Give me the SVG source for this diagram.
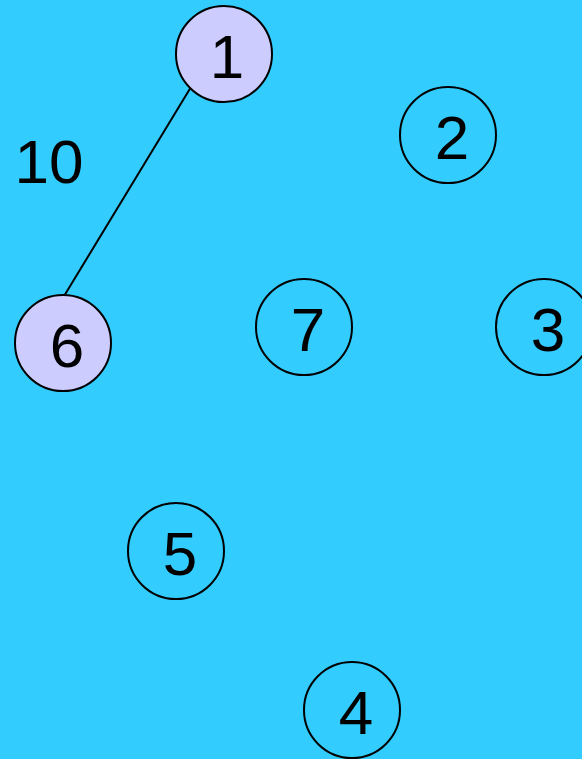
<svg xmlns="http://www.w3.org/2000/svg" width="582" height="759" viewBox="0 0 582 759">
<style>
.n{fill:none;stroke:#000;stroke-width:2}
.v{fill:#CCCCFF}
.t{font-family:"Liberation Sans",Arial,sans-serif;font-size:62px;fill:#000;text-anchor:middle}
.e{stroke:#000;stroke-width:2;fill:none}
</style>
<rect width="582" height="759" fill="#33CCFF"/>
<g id="edges">
<line class="e" x1="190.7" y1="87.5" x2="65" y2="294.5"/>
<text class="t" x="49" y="183">10</text>
</g>
<g id="node1"><circle class="n v" cx="224" cy="54" r="48"/><text class="t" x="227" y="78">1</text></g>
<g id="node2"><circle class="n" cx="448" cy="135" r="48"/><text class="t" x="452" y="159">2</text></g>
<g id="node3"><circle class="n" cx="544" cy="327" r="48"/><text class="t" x="548" y="351">3</text></g>
<g id="node4"><circle class="n" cx="352" cy="710" r="48"/><text class="t" x="356" y="734">4</text></g>
<g id="node5"><circle class="n" cx="176" cy="551" r="48"/><text class="t" x="180" y="575">5</text></g>
<g id="node6"><circle class="n v" cx="63" cy="343" r="48"/><text class="t" x="67" y="367">6</text></g>
<g id="node7"><circle class="n" cx="304" cy="327" r="48"/><text class="t" x="308" y="351">7</text></g>
</svg>
